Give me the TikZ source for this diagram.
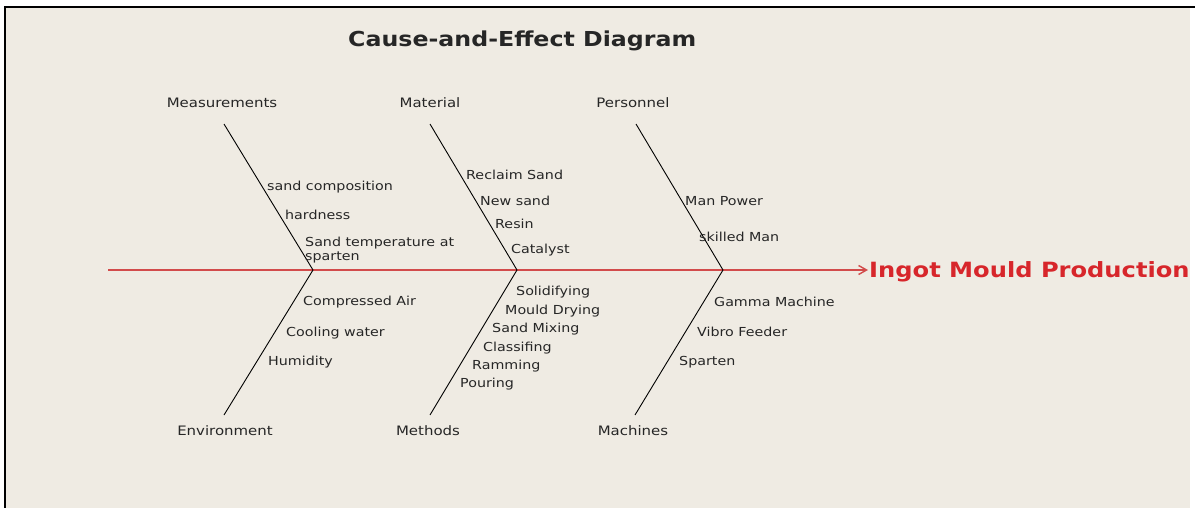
\documentclass[tikz,border=0pt]{standalone}
\usepackage{fontspec}
\setmainfont{DejaVu Sans}[FakeStretch=1.15]
\usetikzlibrary{arrows.meta}
\definecolor{paper}{HTML}{EFEBE3}
\definecolor{spinered}{HTML}{D24B4B}
\definecolor{effectred}{HTML}{D7262B}
\begin{document}
\begin{tikzpicture}[x=1pt, y=-1pt,
    every node/.style={inner sep=1pt, text=black!85},
    cat/.style={anchor=base, font=\fontsize{13}{15}\selectfont},
    cause/.style={anchor=base west, font=\fontsize{12.4}{13.5}\selectfont},
    bone/.style={black, line width=0.9pt},
    spine/.style={spinered, line width=1.4pt, -{Straight Barb[length=8pt, width=9pt]}}]
    \useasboundingbox (0,0) rectangle (1195,508);
    \fill[paper] (5,7) rectangle (1190,508);
    \draw[black, line width=1.6pt] (1195,7) -- (5,7) -- (5,508);

    % title and effect
    \node[anchor=base west, font=\bfseries\fontsize{20.6}{22}\selectfont] (title) at (347,47) {Cause-and-Effect Diagram};
    \node[anchor=base west, text=effectred, font=\bfseries\fontsize{21}{22}\selectfont] (effect) at (868,277) {Ingot Mould Production};

    % spine
    \coordinate (tail) at (108,270);
    \coordinate (j1) at (313,270);
    \coordinate (j2) at (517,270);
    \coordinate (j3) at (723,270);
    \draw[spine] (tail) -- (tail -| effect.west);

    % categories
    \node[cat] (meas) at (222,108) {Measurements};
    \node[cat] (mat)  at (430,108) {Material};
    \node[cat] (pers) at (633,108) {Personnel};
    \node[cat] (env)  at (225,435) {Environment};
    \node[cat] (meth) at (428,435) {Methods};
    \node[cat] (mach) at (633,435) {Machines};

    % bone ends
    \coordinate (b1) at (224,124);
    \coordinate (b2) at (430,124);
    \coordinate (b3) at (636,124);
    \coordinate (b4) at (224,415);
    \coordinate (b5) at (430,415);
    \coordinate (b6) at (635,415);
    \draw[bone] (b1) -- (j1);
    \draw[bone] (b2) -- (j2);
    \draw[bone] (b3) -- (j3);
    \draw[bone] (b4) -- (j1);
    \draw[bone] (b5) -- (j2);
    \draw[bone] (b6) -- (j3);

    % causes
    \node[cause] (m1) at (266,190) {sand composition};
    \node[cause] (m2) at (284,219) {hardness};
    \node[cause, align=left] (m3) at (304,260) {Sand temperature at\\sparten};

    \node[cause] (a1) at (465,180) {Reclaim Sand};
    \node[cause] (a2) at (479,205) {New sand};
    \node[cause] (a3) at (494,229) {Resin};
    \node[cause] (a4) at (510,253) {Catalyst};

    \node[cause] (p1) at (684,205) {Man Power};
    \node[cause] (p2) at (698,241) {skilled Man};

    \node[cause] (e1) at (302,305) {Compressed Air};
    \node[cause] (e2) at (285,336) {Cooling water};
    \node[cause] (e3) at (267,365) {Humidity};

    \node[cause] (t1) at (515,295) {Solidifying};
    \node[cause] (t2) at (504,314) {Mould Drying};
    \node[cause] (t3) at (491,332) {Sand Mixing};
    \node[cause] (t4) at (482,351) {Classifing};
    \node[cause] (t5) at (471,369) {Ramming};
    \node[cause] (t6) at (459,387) {Pouring};

    \node[cause] (c1) at (713,306) {Gamma Machine};
    \node[cause] (c2) at (696,336) {Vibro Feeder};
    \node[cause] (c3) at (678,365) {Sparten};
\end{tikzpicture}
\end{document}
